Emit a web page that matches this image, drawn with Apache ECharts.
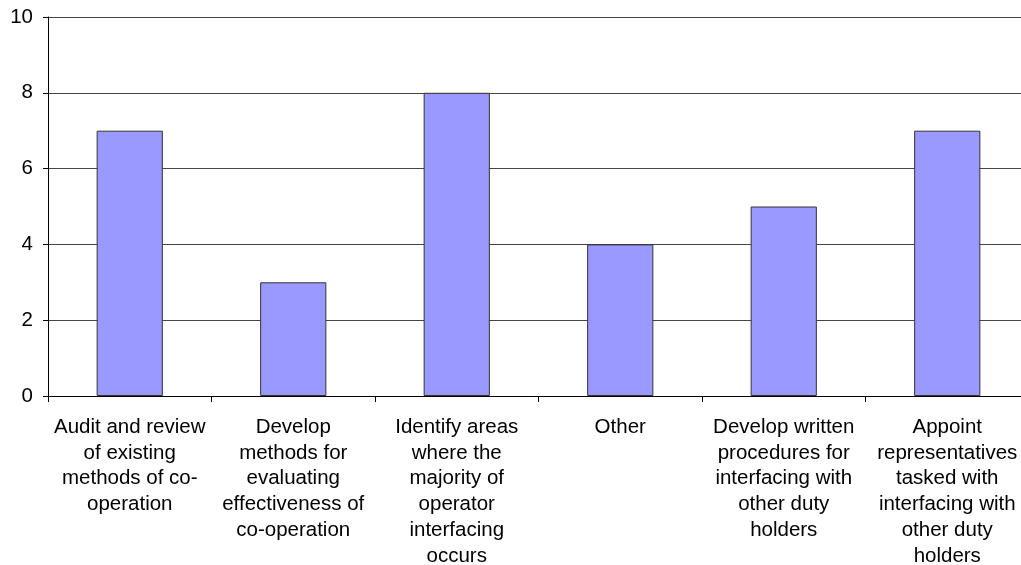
<!DOCTYPE html>
<html><head><meta charset="utf-8">
<script src="https://cdn.jsdelivr.net/npm/echarts@6/dist/echarts.min.js"></script>
<style>html,body{margin:0;padding:0;background:#fff}#c{width:1021px;height:565px}</style>
</head><body><div id="c"></div>
<script>
const categories = [
  "Audit and review\nof existing\nmethods of co-\noperation",
  "Develop\nmethods for\nevaluating\neffectiveness of\nco-operation",
  "Identify areas\nwhere the\nmajority of\noperator\ninterfacing\noccurs",
  "Other",
  "Develop written\nprocedures for\ninterfacing with\nother duty\nholders",
  "Appoint\nrepresentatives\ntasked with\ninterfacing with\nother duty\nholders"
];
const values = [7, 3, 8, 4, 5, 7];
const yTicks = { min: 0, max: 10, interval: 2 };

const chart = echarts.init(document.getElementById('c'), null, {renderer: 'canvas'});
chart.setOption({
  animation: false,
  grid: { left: 48, right: -8, top: 17, bottom: 169, containLabel: false, outerBoundsMode: 'none' },
  xAxis: {
    type: 'category',
    data: categories,
    axisLine: { lineStyle: { color: '#000', width: 1 } },
    axisTick: { show: true, length: 6, lineStyle: { color: '#000' } },
    axisLabel: { interval: 0, color: '#000', fontFamily: 'Liberation Sans, Arial', fontSize: 20.5, lineHeight: 25.9, margin: 18, verticalAlign: 'top' }
  },
  yAxis: {
    type: 'value',
    min: yTicks.min, max: yTicks.max, interval: yTicks.interval,
    axisLine: { show: true, lineStyle: { color: '#000', width: 1 } },
    axisTick: { show: true, length: 5, lineStyle: { color: '#000' } },
    axisLabel: { color: '#000', fontFamily: 'Liberation Sans, Arial', fontSize: 20.5, margin: 15 },
    splitLine: { show: true, lineStyle: { color: '#444', width: 1 } }
  },
  series: [{
    type: 'bar',
    data: values,
    barWidth: '40.5%',
    itemStyle: { color: '#9999FF', borderColor: '#333', borderWidth: 1 }
  }]
});
</script></body></html>
